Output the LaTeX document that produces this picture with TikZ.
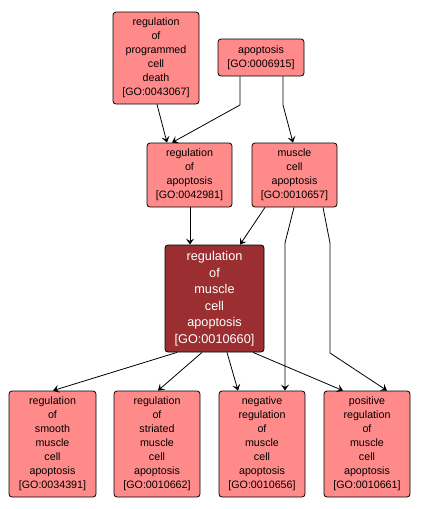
\documentclass[tikz,border=0pt]{standalone}
\usepackage{fontspec}
\setmainfont{Liberation Sans}
\usetikzlibrary{arrows.meta}
\definecolor{gofill}{RGB}{255,138,138}
\definecolor{gocentral}{RGB}{154,46,48}
\tikzset{
  goterm/.style={draw=black, fill=gofill, rounded corners=3pt, line width=0.8pt,
    align=center, inner sep=0pt, font=\fontsize{10.7}{14}\selectfont, text=black},
  gomain/.style={goterm, fill=gocentral, text=white, font=\fontsize{12.7}{16.5}\selectfont},
  arr/.style={draw=black, line width=0.8pt, -{Stealth[length=6pt,width=8pt,inset=2.5pt]}}
}
\begin{document}
\begin{tikzpicture}[x=1pt,y=-1pt]
\useasboundingbox (0,0) rectangle (421,509);
\fill[white] (0,0) rectangle (421,509);
\node[goterm, minimum width=86pt, minimum height=92pt] (A) at (156,58) {regulation\\of\\programmed\\cell\\death\\{[GO:0043067]}};
\node[goterm, minimum width=86pt, minimum height=37pt] (B) at (261,57.5) {apoptosis\\{[GO:0006915]}};
\node[goterm, minimum width=85pt, minimum height=64pt] (C) at (189.5,175) {regulation\\of\\apoptosis\\{[GO:0042981]}};
\node[goterm, minimum width=85pt, minimum height=64pt] (D) at (294.5,175) {muscle\\cell\\apoptosis\\{[GO:0010657]}};
\node[gomain, minimum width=99pt, minimum height=107pt] (E) at (214.5,298.5) {regulation\\of\\muscle\\cell\\apoptosis\\{[GO:0010660]}};
\node[goterm, minimum width=87pt, minimum height=106pt] (F) at (52.5,444) {regulation\\of\\smooth\\muscle\\cell\\apoptosis\\{[GO:0034391]}};
\node[goterm, minimum width=86pt, minimum height=106pt] (G) at (157,444) {regulation\\of\\striated\\muscle\\cell\\apoptosis\\{[GO:0010662]}};
\node[goterm, minimum width=86pt, minimum height=106pt] (H) at (262,444) {negative\\regulation\\of\\muscle\\cell\\apoptosis\\{[GO:0010656]}};
\node[goterm, minimum width=86pt, minimum height=106pt] (I) at (367,444) {positive\\regulation\\of\\muscle\\cell\\apoptosis\\{[GO:0010661]}};
\coordinate (b1) at (240,105);
\coordinate (b2) at (283,105);
\coordinate (d1) at (285,243);
\coordinate (d2) at (330,243);
\coordinate (d3) at (330,353);
\draw[arr] ([xshift=1pt]A.south) -- ([xshift=-22.5pt]C.north);
\draw[arr] ([xshift=-21pt]B.south) -- (b1) -- ([xshift=-17.5pt]C.north);
\draw[arr] ([xshift=22pt]B.south) -- (b2) -- ([xshift=-1.5pt]D.north);
\draw[arr] ([xshift=0.5pt]C.south) -- ([xshift=-24.5pt]E.north);
\draw[arr] ([xshift=-29.5pt]D.south) -- ([xshift=25.5pt]E.north);
\draw[arr] ([xshift=-0.5pt]D.south) -- (d1) -- ([xshift=23pt]H.north);
\draw[arr] ([xshift=28.5pt]D.south) -- (d2) -- (d3) -- ([xshift=20pt]I.north);
\draw[arr] ([xshift=-37.5pt]E.south) -- ([xshift=0.5pt]F.north);
\draw[arr] ([xshift=-12.5pt]E.south) -- ([xshift=1pt]G.north);
\draw[arr] ([xshift=12.5pt]E.south) -- ([xshift=-24pt]H.north);
\draw[arr] ([xshift=38.5pt]E.south) -- ([xshift=-24pt]I.north);
\end{tikzpicture}
\end{document}
